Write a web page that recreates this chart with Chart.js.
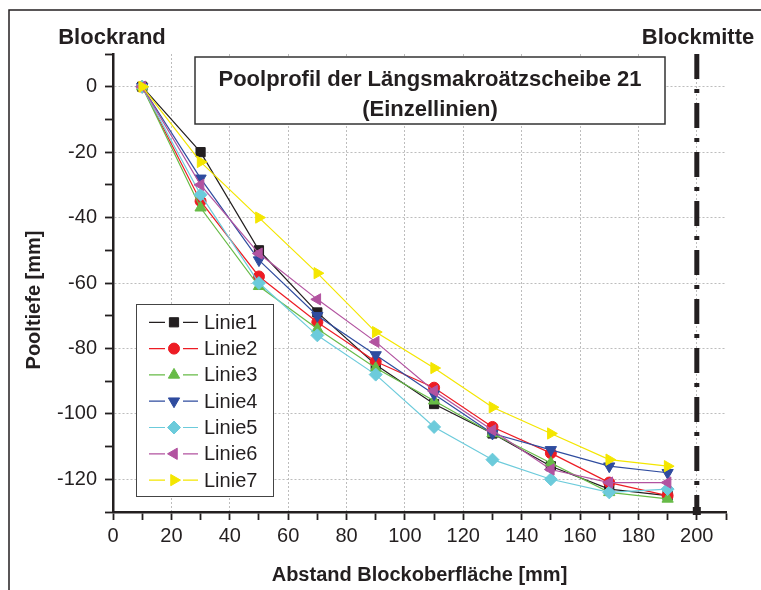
<!DOCTYPE html>
<html><head><meta charset="utf-8">
<script src="https://cdn.jsdelivr.net/npm/chart.js@4/dist/chart.umd.min.js"></script>
<style>html,body{margin:0;padding:0;background:#fff}#wrap{width:761px;height:590px;position:relative}</style>
</head><body><div id="wrap"><canvas id="c" width="761" height="590"></canvas></div>
<script>
// ---- data ----
const xValues = [10, 30, 50, 70, 90, 110, 130, 150, 170, 190];
const linie1 = [0, -20, -50, -69, -85, -97, -106, -116, -123, -125];
const linie2 = [0, -35, -58, -72, -84, -92, -104, -112, -121, -125];
const linie3 = [0, -37, -61, -74, -86, -96, -106, -115, -124, -126];
const linie4 = [0, -28, -53, -70, -82, -94, -106, -111, -116, -118];
const linie5 = [0, -33, -60, -76, -88, -104, -114, -120, -124, -123];
const linie6 = [0, -30, -51, -65, -78, -93, -105, -117, -121, -121];
const linie7 = [0, -23, -40, -57, -75, -86, -98, -106, -114, -116];
const seriesNames = ['Linie1', 'Linie2', 'Linie3', 'Linie4', 'Linie5', 'Linie6', 'Linie7'];
const seriesValues = [linie1, linie2, linie3, linie4, linie5, linie6, linie7];
const blockMitteX = 200;
const xMin = 0, xMax = 210, xStep = 10, xMajor = 20;
const yMin = -130, yMax = 10, yStep = 10, yMajor = 20;
const titleLines = ['Poolprofil der Längsmakroätzscheibe 21', '(Einzellinien)'];
const xTitle = 'Abstand Blockoberfläche [mm]';
const yTitle = 'Pooltiefe [mm]';
const leftLabel = 'Blockrand';
const rightLabel = 'Blockmitte';

// ---- styles ----
const colors = ['#231f20', '#ed1c24', '#67bb47', '#2f4c9f', '#6ccbdb', '#b253a0', '#f4e600'];
const pStyles = ['rect', 'circle', 'triangle', 'triangle', 'rectRot', 'triangle', 'triangle'];
const pRot = [0, 0, 0, 180, 0, 270, 90];
const pRad = [6.5, 5.5, 6.5, 6.5, 6.5, 6.5, 6.5];
const FONT = '"Liberation Sans", Arial, Helvetica, sans-serif';
const TXT = '#231f20';

const datasets = seriesNames.map((n, i) => ({
  label: n,
  data: xValues.map((x, j) => ({x: x, y: seriesValues[i][j]})),
  borderColor: colors[i],
  backgroundColor: colors[i],
  borderWidth: 1.2,
  pointStyle: pStyles[i],
  rotation: pRot[i],
  pointRadius: pRad[i],
  pointBorderWidth: 1,
  pointBorderColor: colors[i],
  pointBackgroundColor: colors[i],
  tension: 0,
  order: seriesNames.length - i
}));

const decor = {
  id: 'decor',
  beforeDraw(chart) {
    const c = chart.ctx;
    c.save();
    c.fillStyle = '#fff';
    c.fillRect(0, 0, chart.width, chart.height);
    c.strokeStyle = '#231f20';
    c.lineWidth = 1.5;
    c.beginPath();
    c.moveTo(9, 590); c.lineTo(9, 10); c.lineTo(761, 10);
    c.stroke();
    c.restore();
  },
  afterDatasetsDraw(chart) {
    const c = chart.ctx;
    const xs = chart.scales.x;
    const ca = chart.chartArea;
    c.save();
    // Blockmitte dash-dot line
    const bx = xs.getPixelForValue(blockMitteX);
    c.strokeStyle = '#231f20';
    c.lineWidth = 5;
    c.setLineDash([25, 10, 4, 10]);
    c.lineDashOffset = 0;
    c.beginPath();
    c.moveTo(bx, ca.top);
    c.lineTo(bx, ca.bottom);
    c.stroke();
    c.setLineDash([]);
    c.fillStyle = '#231f20';
    c.fillRect(bx - 4, ca.bottom - 5, 8, 8);

    // Title box
    c.fillStyle = '#fff';
    c.fillRect(195, 57, 470, 67);
    c.strokeStyle = '#333';
    c.lineWidth = 1.5;
    c.strokeRect(195, 57, 470, 67);
    c.fillStyle = TXT;
    c.font = 'bold 22px ' + FONT;
    c.textAlign = 'center';
    c.textBaseline = 'alphabetic';
    c.fillText(titleLines[0], 430, 86);
    c.fillText(titleLines[1], 430, 116);

    // Legend
    const lx = 136, ly = 304, lw = 137, lh = 192;
    c.fillStyle = '#fff';
    c.fillRect(lx, ly, lw, lh);
    c.strokeStyle = '#444';
    c.lineWidth = 1;
    c.strokeRect(lx + 0.5, ly + 0.5, lw, lh);
    const rowY0 = 322.3, rowH = 26.3;
    chart.data.datasets.forEach((ds, i) => {
      const y = rowY0 + i * rowH;
      c.strokeStyle = ds.borderColor;
      c.lineWidth = 1.2;
      c.beginPath();
      c.moveTo(149, y); c.lineTo(165, y);
      c.moveTo(183, y); c.lineTo(198, y);
      c.stroke();
      c.fillStyle = ds.backgroundColor;
      c.strokeStyle = ds.borderColor;
      c.lineWidth = 1;
      Chart.helpers.drawPoint(c, {pointStyle: ds.pointStyle, rotation: ds.rotation, radius: ds.pointRadius, borderWidth: 1}, 174, y);
      c.fillStyle = TXT;
      c.font = '20px ' + FONT;
      c.textAlign = 'left';
      c.textBaseline = 'middle';
      c.fillText(ds.label, 204, y + 1);
    });

    // Corner labels
    c.fillStyle = TXT;
    c.font = 'bold 22px ' + FONT;
    c.textBaseline = 'alphabetic';
    c.textAlign = 'center';
    c.fillText(leftLabel, 112, 44);
    c.fillText(rightLabel, 698, 44);

    // Y title
    c.save();
    c.translate(34, 300);
    c.rotate(-Math.PI / 2);
    c.font = 'bold 20px ' + FONT;
    c.textAlign = 'center';
    c.textBaseline = 'middle';
    c.fillText(yTitle, 0, 0);
    c.restore();
    c.restore();
  }
};

const gridColor = (major) => (ctx) => (ctx.tick && Math.abs(ctx.tick.value % major) < 1e-9) ? '#bdbdbd' : 'rgba(0,0,0,0)';

new Chart(document.getElementById('c'), {
  type: 'line',
  data: { datasets },
  options: {
    responsive: false,
    animation: false,
    devicePixelRatio: 1,
    layout: { padding: { left: 0, top: 54, right: 35, bottom: 0 } },
    plugins: { legend: { display: false }, tooltip: { enabled: false } },
    scales: {
      x: {
        type: 'linear',
        min: xMin, max: xMax,
        afterFit(s) { s.height = 78; },
        ticks: {
          stepSize: xStep, autoSkip: false, maxRotation: 0,
          padding: 4, color: TXT,
          font: { family: FONT, size: 20 },
          callback: (v) => (v % xMajor === 0 ? String(v) : '')
        },
        grid: { color: gridColor(xMajor), lineWidth: 1, tickColor: '#231f20', tickLength: 8, tickWidth: 1.8 },
        border: { display: true, color: '#231f20', width: 2.5, dash: [2, 2] },
        title: { display: true, text: xTitle, color: TXT, font: { family: FONT, size: 20, weight: 'bold' }, padding: { top: 0, bottom: 3 } }
      },
      y: {
        type: 'linear',
        min: yMin, max: yMax,
        afterFit(s) { s.width = 113; },
        ticks: {
          stepSize: yStep, autoSkip: false,
          padding: 8, color: TXT,
          font: { family: FONT, size: 20 },
          callback: (v) => (v % yMajor === 0 ? String(v) : '')
        },
        grid: { color: gridColor(yMajor), lineWidth: 1, tickColor: '#231f20', tickLength: 8, tickWidth: 1.8 },
        border: { display: true, color: '#231f20', width: 2.5, dash: [2, 2] },
        title: { display: false }
      }
    }
  },
  plugins: [decor]
});
</script>
</body></html>
